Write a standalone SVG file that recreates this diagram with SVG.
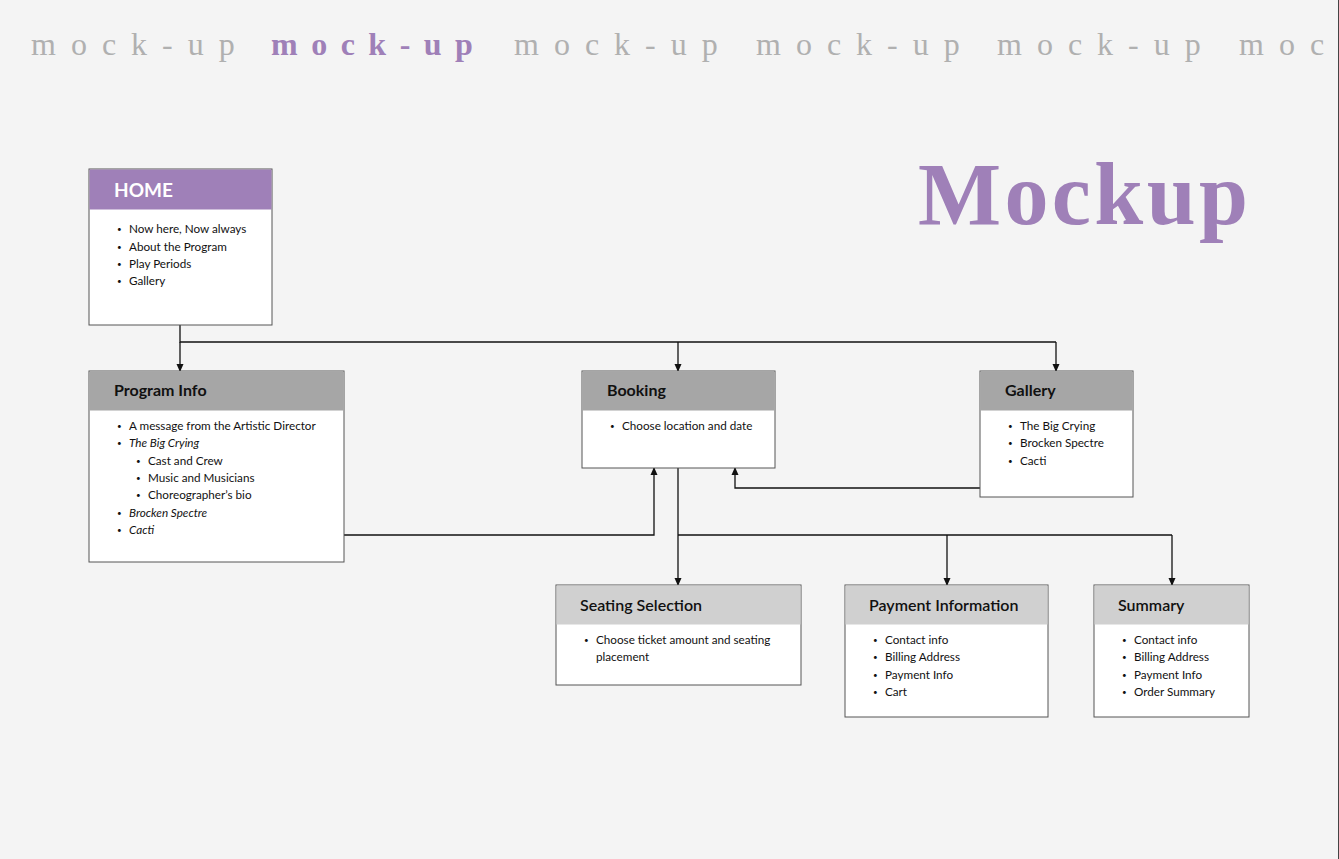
<svg xmlns="http://www.w3.org/2000/svg" width="1339" height="859" viewBox="0 0 1339 859">
<defs>
<marker id="arr" markerWidth="8" markerHeight="8" refX="4" refY="7" markerUnits="userSpaceOnUse" viewBox="0 0 8 8">
<path d="M0.5,0 L7.5,0 L4,8 Z" fill="#111"/>
</marker>
<marker id="arrUp" markerWidth="8" markerHeight="8" refX="4" refY="1" markerUnits="userSpaceOnUse" viewBox="0 0 8 8">
<path d="M0.5,8 L7.5,8 L4,0 Z" fill="#111"/>
</marker>
</defs>
<style>
.box{fill:#fff;stroke:#555;stroke-width:1}
.hp{fill:#9f80b8}
.hd{fill:#a6a6a6}
.hl{fill:#d0d0d0}
.t{font-family:"Lato","Liberation Sans",sans-serif;font-size:11.7px;fill:#111}
.b{font-size:8px}
.i{font-style:italic}
.h{font-family:"Lato","Liberation Sans",sans-serif;font-size:16px;font-weight:700;fill:#111}
.h2{font-family:"Lato","Liberation Sans",sans-serif;font-size:16px;font-weight:600;fill:#111}
.ban{font-family:"Liberation Serif","DejaVu Serif",serif;font-size:32px;letter-spacing:15px;fill:#b0b0b0}
.banp{fill:#9f80b8;font-weight:700;letter-spacing:13.5px}
.con{fill:none;stroke:#111;stroke-width:1.3}
</style>
<rect width="1339" height="859" fill="#f4f4f4"/>
<line x1="1338.5" y1="0" x2="1338.5" y2="859" stroke="#444" stroke-width="1"/>
<g id="banner">
<text class="ban" x="31" y="55">mock-up</text>
<text class="ban banp" x="271" y="55">mock-up</text>
<text class="ban" x="514" y="55">mock-up</text>
<text class="ban" x="756" y="55">mock-up</text>
<text class="ban" x="997" y="55">mock-up</text>
<text class="ban" x="1239" y="55">moc</text>
</g>
<text x="918" y="224" font-family="Liberation Serif, DejaVu Serif, serif" font-size="88" font-weight="700" fill="#9f80b8" textLength="330">Mockup</text>
<g id="connectors">
<path class="con" d="M180,325 V342 H1056"/>
<path class="con" d="M180,342 V371" marker-end="url(#arr)"/>
<path class="con" d="M678,342 V371" marker-end="url(#arr)"/>
<path class="con" d="M1056,342 V371" marker-end="url(#arr)"/>
<path class="con" d="M344,535 H654 V468" marker-end="url(#arrUp)"/>
<path class="con" d="M980,488 H735 V468" marker-end="url(#arrUp)"/>
<path class="con" d="M678,468 V585" marker-end="url(#arr)"/>
<path class="con" d="M678,535 H1172"/>
<path class="con" d="M947,535 V585" marker-end="url(#arr)"/>
<path class="con" d="M1172,535 V585" marker-end="url(#arr)"/>
</g>
<g id="home">
<rect class="box" x="89" y="169" width="183" height="156"/>
<rect class="hp" x="89.5" y="169.5" width="182" height="40"/>
<text x="114" y="197" font-family="Lato, Liberation Sans, sans-serif" font-size="19" font-weight="700" fill="#fff">HOME</text>
<g class="t">
<text class="b" x="117" y="232">•</text><text x="129" y="233">Now here, Now always</text>
<text class="b" x="117" y="250">•</text><text x="129" y="251">About the Program</text>
<text class="b" x="117" y="267">•</text><text x="129" y="268">Play Periods</text>
<text class="b" x="117" y="284">•</text><text x="129" y="285">Gallery</text>
</g>
</g>
<g id="program-info">
<rect class="box" x="89" y="371" width="255" height="191"/>
<rect class="hd" x="89.5" y="371.5" width="254" height="39"/>
<text class="h" x="114" y="396">Program Info</text>
<g class="t">
<text class="b" x="117" y="429">•</text><text x="129" y="430">A message from the Artistic Director</text>
<text class="b" x="117" y="446">•</text><text class="i" x="129" y="447">The Big Crying</text>
<text class="b" x="136" y="464">•</text><text x="148" y="465">Cast and Crew</text>
<text class="b" x="136" y="481">•</text><text x="148" y="482">Music and Musicians</text>
<text class="b" x="136" y="498">•</text><text x="148" y="499">Choreographer’s bio</text>
<text class="b" x="117" y="516">•</text><text class="i" x="129" y="517">Brocken Spectre</text>
<text class="b" x="117" y="533">•</text><text class="i" x="129" y="534">Cacti</text>
</g>
</g>
<g id="booking">
<rect class="box" x="582" y="371" width="193" height="97"/>
<rect class="hd" x="582.5" y="371.5" width="192" height="39"/>
<text class="h" x="607" y="396">Booking</text>
<g class="t">
<text class="b" x="610" y="429">•</text><text x="622" y="430">Choose location and date</text>
</g>
</g>
<g id="gallery">
<rect class="box" x="980" y="371" width="153" height="126"/>
<rect class="hd" x="980.5" y="371.5" width="152" height="39"/>
<text class="h" x="1005" y="396">Gallery</text>
<g class="t">
<text class="b" x="1008" y="429">•</text><text x="1020" y="430">The Big Crying</text>
<text class="b" x="1008" y="446">•</text><text x="1020" y="447">Brocken Spectre</text>
<text class="b" x="1008" y="464">•</text><text x="1020" y="465">Cacti</text>
</g>
</g>
<g id="seating-selection">
<rect class="box" x="556" y="585" width="245" height="100"/>
<rect class="hl" x="556.5" y="585.5" width="244" height="39"/>
<text class="h2" x="580" y="611">Seating Selection</text>
<g class="t">
<text class="b" x="584" y="643">•</text><text x="596" y="644">Choose ticket amount and seating</text>
<text x="596" y="661">placement</text>
</g>
</g>
<g id="payment-information">
<rect class="box" x="845" y="585" width="203" height="132"/>
<rect class="hl" x="845.5" y="585.5" width="202" height="39"/>
<text class="h2" x="869" y="611">Payment Information</text>
<g class="t">
<text class="b" x="873" y="643">•</text><text x="885" y="644">Contact info</text>
<text class="b" x="873" y="660">•</text><text x="885" y="661">Billing Address</text>
<text class="b" x="873" y="678">•</text><text x="885" y="679">Payment Info</text>
<text class="b" x="873" y="695">•</text><text x="885" y="696">Cart</text>
</g>
</g>
<g id="summary">
<rect class="box" x="1094" y="585" width="155" height="132"/>
<rect class="hl" x="1094.5" y="585.5" width="154" height="39"/>
<text class="h2" x="1118" y="611">Summary</text>
<g class="t">
<text class="b" x="1122" y="643">•</text><text x="1134" y="644">Contact info</text>
<text class="b" x="1122" y="660">•</text><text x="1134" y="661">Billing Address</text>
<text class="b" x="1122" y="678">•</text><text x="1134" y="679">Payment Info</text>
<text class="b" x="1122" y="695">•</text><text x="1134" y="696">Order Summary</text>
</g>
</g>
</svg>
